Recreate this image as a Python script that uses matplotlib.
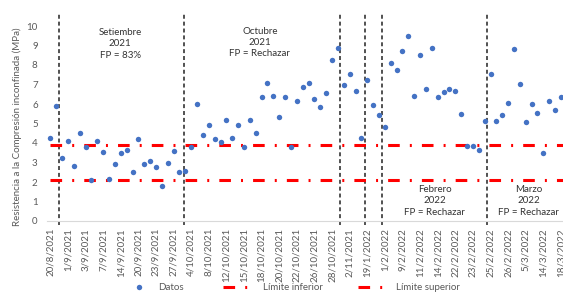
import numpy as np
import matplotlib
matplotlib.use("Agg")
import matplotlib.pyplot as plt
from matplotlib.lines import Line2D

plt.rcParams['font.family'] = ['Lato', 'DejaVu Sans']

# Data (one value per sample, in order)
datos = [4.27, 5.91, 3.22, 4.10, 2.84, 4.50, 3.81, 2.09, 4.10, 3.55,
         2.15, 2.94, 3.47, 3.64, 2.50, 4.19, 2.94, 3.06, 2.75, 1.81,
         2.96, 3.61, 2.50, 2.56, 3.81, 6.00, 4.43, 4.91, 4.19, 4.03,
         5.18, 4.27, 4.94, 3.78, 5.16, 4.51, 6.38, 7.06, 6.41, 5.32,
         6.36, 3.78, 6.14, 6.89, 7.06, 6.26, 5.86, 6.58, 8.26, 8.87,
         6.99, 7.54, 6.65, 4.24, 7.21, 5.97, 5.44, 4.84, 8.12, 7.76,
         8.74, 9.49, 6.41, 8.53, 6.79, 8.87, 6.34, 6.62, 6.75, 6.68,
         5.49, 3.85, 3.85, 3.64, 5.11, 7.56, 5.15, 5.42, 6.07, 8.82,
         7.01, 5.08, 6.00, 5.52, 3.47, 6.17, 5.71, 6.34]

# every third sample carries a date label
tick_labels = ['20/8/2021', '1/9/2021', '3/9/2021', '7/9/2021', '14/9/2021',
               '20/9/2021', '23/9/2021', '27/9/2021', '4/10/2021', '8/10/2021',
               '12/10/2021', '15/10/2021', '18/10/2021', '20/10/2021',
               '22/10/2021', '26/10/2021', '28/10/2021', '2/11/2021',
               '19/1/2022', '1/2/2022', '9/2/2022', '11/2/2022', '14/2/2022',
               '22/2/2022', '23/2/2022', '25/2/2022', '26/2/2022', '5/3/2022',
               '14/3/2022', '18/3/2022']

limite_inferior = 2.1
limite_superior = 3.9

# month separators (category positions)
separadores = [2.5, 23.7, 50.4, 54.6, 57.5, 75.4]

meses = ['Setiembre\n2021\nFP = 83%', 'Octubre\n2021\nFP = Rechazar',
         'Febrero\n2022\nFP = Rechazar', 'Marzo\n2022\nFP = Rechazar']
mes_x = [12.9, 36.7, 66.5, 82.5]
mes_y = [9.08, 9.15, 1.03, 1.03]

AZUL = '#4472C4'
ROJO = '#FF0000'
GRIS = '#595959'
DASHDOT = (0, (3.8, 3.3, 0.65, 3.3))

# Plot
W, H = 563, 293
fig = plt.figure(figsize=(W / 100, H / 100), dpi=100)
ax = fig.add_axes([47.4 / W, 72 / H, 1 - 47.4 / W, 208.65 / H])

n = len(datos)
x = np.arange(1, n + 1)
x_lim = np.arange(1, n + 3)

ax.plot(x, datos, 'o', color=AZUL, ms=3.9, mec='none', zorder=3)
ax.plot(x_lim, np.full(len(x_lim), limite_inferior), color=ROJO, lw=2.2,
        linestyle=DASHDOT, dash_capstyle='butt', zorder=2)
ax.plot(x_lim, np.full(len(x_lim), limite_superior), color=ROJO, lw=2.2,
        linestyle=DASHDOT, dash_capstyle='butt', zorder=2)

for s in separadores:
    ax.plot([s, s], [-0.18, 10.7], color='#222222', lw=1.1,
            linestyle=(0, (2.6, 1.9)), clip_on=False, zorder=1)

for txt, tx, ty in zip(meses, mes_x, mes_y):
    ax.text(tx, ty, txt, ha='center', va='center', fontsize=7,
            color='#333333', linespacing=1.3)

ax.set_xlim(0.5, 88.35)
ax.set_ylim(0, 10.7)
ax.set_yticks(range(0, 11))
ax.set_xticks(np.arange(1, n + 1, 3))
ax.set_xticklabels(tick_labels, rotation=90)
ax.tick_params(axis='both', length=0, labelsize=7, colors=GRIS)
ax.tick_params(axis='y', pad=7)
ax.tick_params(axis='x', pad=5)

for side in ['top', 'right', 'left']:
    ax.spines[side].set_visible(False)
ax.spines['bottom'].set_color('#D9D9D9')
ax.spines['bottom'].set_linewidth(0.8)

fig.text(17 / W, 1 - 127 / H, 'Resistencia a la Compresión inconfinada (MPa)',
         rotation=90, ha='center', va='center', fontsize=7, color=GRIS)

# Legend drawn by hand to follow the Excel layout
ly = 6 / H
fig.add_artist(Line2D([139 / W], [ly], marker='o', color=AZUL, ms=3.9,
                      mec='none', transform=fig.transFigure))
fig.text(158 / W, ly, 'Datos', ha='left', va='center', fontsize=7, color=GRIS)
for x0, x_txt, lab in [(223, 263, 'Límite inferior'), (358, 396, 'Límite superior')]:
    fig.add_artist(Line2D([x0 / W, (x0 + 24) / W], [ly, ly], color=ROJO, lw=2.2,
                          linestyle=DASHDOT, dash_capstyle='butt',
                          transform=fig.transFigure))
    fig.text(x_txt / W, ly, lab, ha='left', va='center', fontsize=7, color=GRIS)

fig.savefig('out.png', dpi=100)
